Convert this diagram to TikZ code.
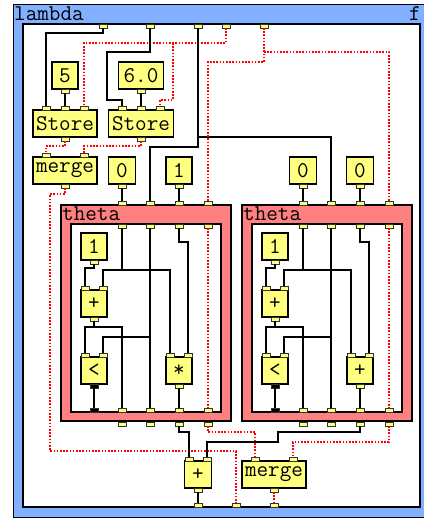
\documentclass[tikz,border=0pt]{standalone}
\usepackage{fontspec}
\definecolor{lamblue}{RGB}{128,176,255}
\definecolor{thred}{RGB}{255,128,128}
\definecolor{boxyel}{RGB}{255,255,128}
\newcommand\boxfont{\ttfamily\fontsize{22.5}{22.5}\selectfont}
\tikzset{
  wire/.style={line width=1.5pt, draw=black},
  state/.style={line width=1.6pt, draw=red, dash pattern=on 1.6pt off 1.6pt},
  port/.style={draw=black!80, line width=0.7pt, fill=boxyel, minimum width=8pt, minimum height=4pt, inner sep=0pt, outer sep=0pt},
  bport/.style={port, fill=black},
  opbox/.style={draw=black, line width=1.5pt, fill=boxyel, minimum height=27pt, inner sep=0pt, outer sep=0pt, font=\boxfont},
  lab/.style={anchor=base west, inner sep=0pt, font=\boxfont},
}
\newcommand\thetablk[3]{%
  \begin{scope}[xshift=#2pt]
    \draw[line width=1.5pt, fill=thred] (61,205) rectangle (231,421);
    \draw[line width=1.5pt, fill=white] (71,224) rectangle (221,412);
    \node[lab] (#1lab) at (62,220.5) {theta};
    \node[opbox, minimum width=26pt] (#1one) at (94,246.5) {1};
    \node[opbox, minimum width=26pt] (#1plus) at (94,303.5) {+};
    \node[opbox, minimum width=26pt] (#1less) at (94,370.5) {<};
    \node[opbox, minimum width=26pt] (#1op) at (179,370.5) {#3};
    \foreach \i/\x in {1/122,2/150,3/179,4/208} {
      \node[port] (#1top\i) at (\x,203) {};
      \node[port] (#1in\i) at (\x,226) {};
      \node[port] (#1out\i) at (\x,410) {};
      \node[port] (#1bot\i) at (\x,424) {};
    }
    \node[bport] (#1outp) at (94,410) {};
    \node[port] (#1onep) at (94,262) {};
    \node[port] (#1pa) at (85,288) {};
    \node[port] (#1pb) at (103,288) {};
    \node[port] (#1po) at (94,319) {};
    \node[port] (#1la) at (85,355) {};
    \node[port] (#1lb) at (103,355) {};
    \node[bport] (#1lo) at (94,386) {};
    \node[port] (#1ma) at (170,355) {};
    \node[port] (#1mb) at (188,355) {};
    \node[port] (#1mo) at (179,386) {};
    % wires
    \draw[wire] (#1onep.south) -- ++(0,4) -| (#1pa.north);
    \draw[wire] (#1in1.south) -- (122,270);
    \draw[wire] (#1pb.north) |- (170,270) -- (#1ma.north);
    \draw[wire] (#1po.south) -- ++(0,6) -| (#1la.north);
    \draw[wire] (94,327) -| (#1out1.north);
    \draw[wire] (#1in2.south) -- (#1out2.north);
    \draw[wire] (150,337) -| (#1lb.north);
    \draw[wire] (#1in3.south) -- ++(0,14) -| (#1mb.north);
    \draw[wire] (#1mo.south) -- (#1out3.north);
    \draw[state] (#1in4.south) -- (#1out4.north);
    \draw[wire] (#1lo.south) -- (#1outp.north);
  \end{scope}}
\begin{document}
\begin{tikzpicture}[x=1pt,y=-1pt]
\useasboundingbox (0,0) rectangle (423,518);
\draw[line width=1pt, fill=lamblue] (13,5) rectangle (425,517);
\draw[line width=1.5pt, fill=white] (23,24) rectangle (420,507);
\node[lab] (lamlab) at (14,21) {lambda};
\node[lab] (flab) at (409,21) {f};
% lambda ports
\foreach \i/\x in {1/103,2/150,3/198,4/226,5/264} \node[port] (lt\i) at (\x,26) {};
\foreach \i/\x in {1/198,2/236,3/274} \node[port] (lb\i) at (\x,505) {};
% boxes
\node[opbox, minimum width=26pt] (c5) at (65,75.5) {5};
\node[opbox, minimum width=45pt] (c60) at (141,75.5) {6.0};
\node[opbox, minimum width=64pt] (st1) at (65,123.5) {Store};
\node[opbox, minimum width=65pt] (st2) at (141,123.5) {Store};
\node[opbox, minimum width=64pt] (mg1) at (65,170.5) {merge};
\node[opbox, minimum width=27pt] (c0a) at (122,170.5) {0};
\node[opbox, minimum width=26pt] (c1a) at (179,170.5) {1};
\node[opbox, minimum width=27pt] (c0b) at (303,170.5) {0};
\node[opbox, minimum width=27pt] (c0c) at (360,170.5) {0};
\node[opbox, minimum width=27pt] (pl) at (198,474.5) {+};
\node[opbox, minimum width=64pt] (mg2) at (274,474.5) {merge};
% ports of boxes
\node[port] (c5p) at (65,91) {};
\node[port] (c60p) at (141,91) {};
\node[port] (s1a) at (46,108) {};
\node[port] (s1b) at (65,108) {};
\node[port] (s1c) at (84,108) {};
\node[port] (s1o) at (65,139) {};
\node[port] (s2a) at (122,108) {};
\node[port] (s2b) at (141,108) {};
\node[port] (s2c) at (160,108) {};
\node[port] (s2o) at (141,139) {};
\node[port] (m1a) at (46,155) {};
\node[port] (m1b) at (84,155) {};
\node[port] (m1o) at (65,186) {};
\node[port] (c0ap) at (122,186) {};
\node[port] (c1ap) at (179,186) {};
\node[port] (c0bp) at (303,186) {};
\node[port] (c0cp) at (360,186) {};
\node[port] (pla) at (189,459) {};
\node[port] (plb) at (207,459) {};
\node[port] (plo) at (198,490) {};
\node[port] (m2a) at (255,459) {};
\node[port] (m2b) at (293,459) {};
\node[port] (m2o) at (274,490) {};
% theta blocks
\thetablk{a}{0}{*}
\thetablk{b}{181}{+}
% top wires
\draw[wire] (lt1.south) |- (46,33) -- (s1a.north);
\draw[wire] (c5p.south) -- (s1b.north);
\draw[state] (lt4.south) |- (84,43) -- (s1c.north);
\draw[state] (173,43) |- (160,100) -- (s2c.north);
\draw[wire] (lt2.south) |- (107,52) |- (122,100) -- (s2a.north);
\draw[wire] (c60p.south) -- (s2b.north);
\draw[wire] (lt3.south) |- (150,147) -- (atop2.north);
\draw[wire] (198,137) -| (btop2.north);
\draw[state] (lt5.south) |- (208,62) -- (atop4.north);
\draw[state] (264,52) -| (btop4.north);
\draw[state] (s1o.south) -- ++(0,5) -| (m1a.north);
\draw[state] (s2o.south) -- ++(0,5) -| (m1b.north);
\draw[state] (m1o.south) -- ++(0,6) -| (50,451) -| (lb2.north);
\draw[wire] (c0ap.south) -- (atop1.north);
\draw[wire] (c1ap.south) -- (atop3.north);
\draw[wire] (c0bp.south) -- (btop1.north);
\draw[wire] (c0cp.south) -- (btop3.north);
% bottom wires
\draw[wire] (abot3.south) -- ++(0,6) -| (pla.north);
\draw[wire] (bbot3.south) -- ++(0,6) -| (278,442) -| (plb.north);
\draw[state] (abot4.south) -- ++(0,6) -| (m2a.north);
\draw[state] (bbot4.south) -- ++(0,16) -| (m2b.north);
\draw[wire] (plo.south) -- (lb1.north);
\draw[state] (m2o.south) -- (lb3.north);
\end{tikzpicture}
\end{document}
